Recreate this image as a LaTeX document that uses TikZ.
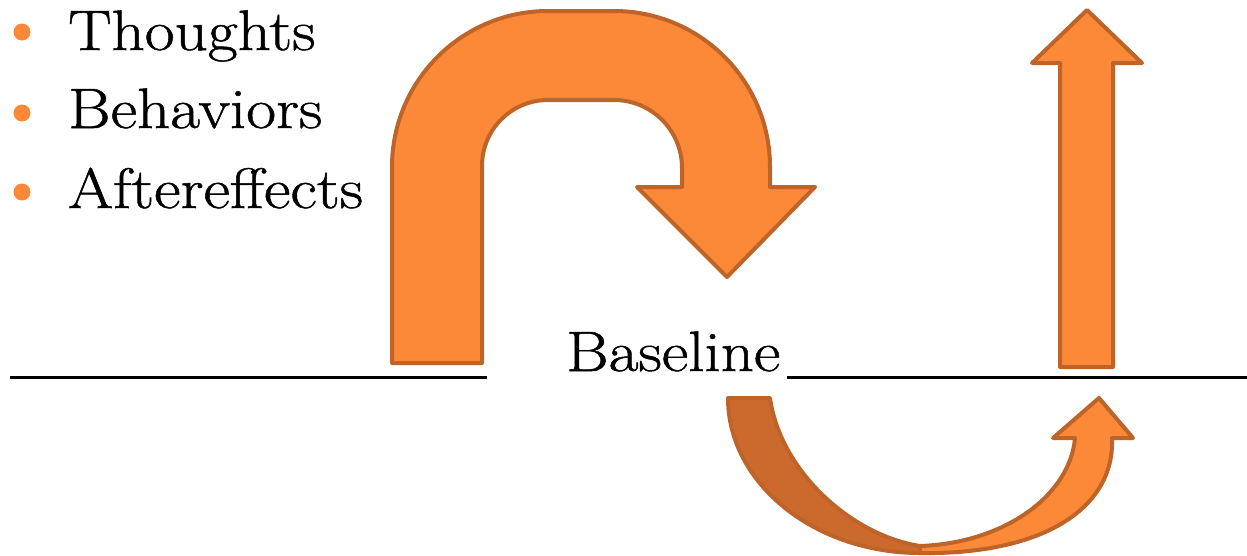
\documentclass[tikz,border=0pt]{standalone}
\usepackage{fontspec}
\newfontfamily\labfont[FakeStretch=1.14,FakeBold=0.9]{Latin Modern Roman}
\definecolor{arrfill}{RGB}{251,137,56}
\definecolor{arrline}{RGB}{190,100,40}
\definecolor{arrdark}{RGB}{203,106,44}
\begin{document}
\begin{tikzpicture}[x=1pt,y=-1pt,
  arrowshape/.style={fill=arrfill,draw=arrline,line width=4pt,line join=round},
  darkshape/.style={fill=arrdark,draw=arrline,line width=4pt,line join=round},
  label/.style={font=\labfont\fontsize{57}{68}\selectfont,inner sep=0pt,anchor=base west},
  dot/.style={circle,fill=arrfill,minimum size=17pt,inner sep=0pt},
  baseline rule/.style={line width=3pt}]
\useasboundingbox (0,0) rectangle (1247,555);
% bullets
\node[dot] (d1) at (22,32) {};
\node[dot] (d2) at (22,113) {};
\node[dot] (d3) at (22,192) {};
\node[label] (t1) at (68,50) {Thoughts};
\node[label] (t2) at (68,128) {Behaviors};
\node[label] (t3) at (68,208) {Aftereffects};
% baseline
\node[label] (base) at (566,371) {Baseline};
\coordinate (l1) at (10,377);
\coordinate (l2) at (487,377);
\coordinate (r1) at (787,377);
\coordinate (r2) at (1247,377);
\draw[baseline rule] (l1) -- (l2);
\draw[baseline rule] (r1) -- (r2);
% U-turn arrow
\draw[arrowshape] (392,363) -- (392,167)
  .. controls (392,80.8) and (461.8,11) .. (548,11)
  -- (614,11)
  .. controls (700.2,11) and (770,80.8) .. (770,167)
  -- (770,187) -- (815,187) -- (727,277) -- (637,187) -- (682,187) -- (682,168)
  .. controls (682,130.4) and (651.6,100) .. (614,100)
  -- (548,100)
  .. controls (511.5,100) and (482,129.5) .. (482,166)
  -- (482,363) -- cycle;
% straight up arrow
\draw[arrowshape] (1060,367) -- (1060,63) -- (1032,63) -- (1087,10) -- (1142,63)
  -- (1113,63) -- (1113,367) -- cycle;
% curved up arrow: back (dark) part
\draw[darkshape] (728,398) -- (770,398)
  .. controls (780,470) and (850,535) .. (920,546)
  -- (920,553)
  .. controls (814,553) and (728,483) .. (728,398) -- cycle;
% curved up arrow: front part
\draw[arrowshape] (920,546)
  .. controls (1005,543) and (1070,495) .. (1075,438)
  -- (1053,438) -- (1099,398) -- (1133,438) -- (1112,438)
  .. controls (1115,510) and (1040,555) .. (920,553) -- cycle;
\end{tikzpicture}
\end{document}
